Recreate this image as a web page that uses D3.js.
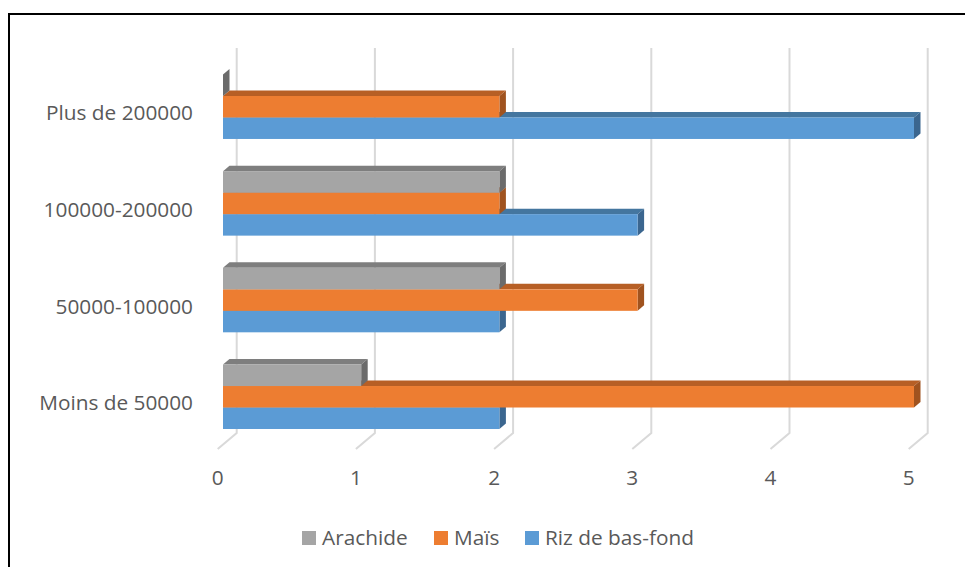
<!DOCTYPE html>
<html>
<head>
<meta charset="utf-8">
<script src="https://cdn.jsdelivr.net/npm/d3@7"></script>
<style>
  body { margin: 0; background: #fff; }
  svg { display: block; font-family: "Open Sans", sans-serif; }
</style>
</head>
<body>
<div class="chartArea"></div>
<script>
// categories listed top to bottom as drawn
const categories = ["Plus de 200000", "100000-200000", "50000-100000", "Moins de 50000"];
const series = ["Arachide", "Maïs", "Riz de bas-fond"];
const arachide = [0, 2, 2, 1];
const mais = [2, 2, 3, 5];
const riz = [5, 3, 2, 2];
const ticks = [0, 1, 2, 3, 4, 5];

const values = [arachide, mais, riz];
const colors = {
  "Arachide": ["#A5A5A5", "#7E7E7E", "#6B6B6B"],
  "Maïs": ["#ED7D31", "#B75F25", "#A0531F"],
  "Riz de bas-fond": ["#5B9BD5", "#44769F", "#3B668F"]
};

const width = 965, height = 567;
const depthX = 6.5, depthY = -5.5;   // bar depth
const wallX = 13.7;                   // back wall offset
const floorX = -19, floorY = 16;      // floor depth
const fontSize = 20.8;

const x = d3.scaleLinear().domain([0, 5]).range([223, 914]);
const y = d3.scaleBand().domain(categories).range([58.4, 445.1])
  .paddingInner(1 / 3).paddingOuter(1 / 6);
const ySub = d3.scaleBand().domain(series).range([0, y.bandwidth()]);

const svg = d3.select(".chartArea").append("svg")
  .attr("width", width).attr("height", height);

svg.append("rect")
  .attr("x", 9).attr("y", 14)
  .attr("width", 1000).attr("height", 600)
  .attr("fill", "none").attr("stroke", "#000").attr("stroke-width", 2);

// gridlines on back wall + floor
const backBottom = 433;
svg.append("g").selectAll("path")
  .data(ticks).enter().append("path")
  .attr("d", d => {
    const gx = x(d) + wallX;
    return `M${gx},48 L${gx},${backBottom} L${gx + floorX},${backBottom + floorY}`;
  })
  .attr("fill", "none").attr("stroke", "#D9D9D9").attr("stroke-width", 2);

// tick labels
svg.append("g").selectAll("text")
  .data(ticks).enter().append("text")
  .attr("x", d => x(d) + wallX + floorX)
  .attr("y", backBottom + floorY + 28)
  .attr("text-anchor", "middle").attr("dominant-baseline", "central")
  .attr("font-size", fontSize).attr("fill", "#595959")
  .text(d => d);

// category labels
svg.append("g").selectAll("text")
  .data(categories).enter().append("text")
  .attr("x", 193)
  .attr("y", d => y(d) + y.bandwidth() / 2 + 5.5)
  .attr("text-anchor", "end").attr("dominant-baseline", "central")
  .attr("font-size", fontSize).attr("fill", "#595959")
  .text(d => d);

// bars: draw bottom series first so upper bars cover top faces
const bars = [];
categories.forEach((c, ci) => {
  for (let si = series.length - 1; si >= 0; si--) {
    bars.push({ cat: c, s: series[si], v: values[si][ci] });
  }
});

const barG = svg.append("g").selectAll("g")
  .data(bars).enter().append("g");

barG.append("path")   // top face
  .attr("d", d => {
    const x0 = x(0), x1 = x(d.v), yt = y(d.cat) + ySub(d.s);
    return `M${x0},${yt} L${x0 + depthX},${yt + depthY} L${x1 + depthX},${yt + depthY} L${x1},${yt} Z`;
  })
  .attr("fill", d => colors[d.s][1]);

barG.append("path")   // side face
  .attr("d", d => {
    const x1 = x(d.v), yt = y(d.cat) + ySub(d.s), yb = yt + ySub.bandwidth();
    return `M${x1},${yt} L${x1 + depthX},${yt + depthY} L${x1 + depthX},${yb + depthY} L${x1},${yb} Z`;
  })
  .attr("fill", d => colors[d.s][2]);

barG.append("rect")   // front face
  .attr("x", x(0))
  .attr("y", d => y(d.cat) + ySub(d.s))
  .attr("width", d => x(d.v) - x(0))
  .attr("height", ySub.bandwidth())
  .attr("fill", d => colors[d.s][0]);

// legend
const legendX = [302, 434, 525];
const legend = svg.append("g").selectAll("g")
  .data(series).enter().append("g")
  .attr("transform", (d, i) => `translate(${legendX[i]},531)`);
legend.append("rect")
  .attr("width", 14).attr("height", 14)
  .attr("fill", d => colors[d][0]);
legend.append("text")
  .attr("x", 20).attr("y", 5.5)
  .attr("dominant-baseline", "central")
  .attr("font-size", fontSize).attr("fill", "#595959")
  .text(d => d);
</script>
</body>
</html>
